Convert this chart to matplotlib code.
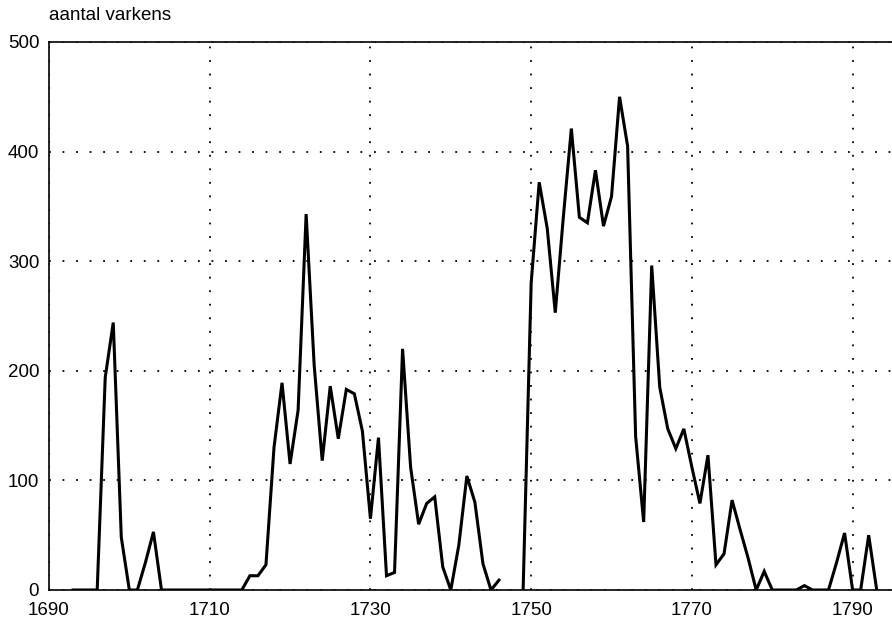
import numpy as np
import matplotlib.pyplot as plt

plt.rcParams['font.family'] = ['Liberation Sans', 'DejaVu Sans']

# aantal varkens per jaar; 1747 en 1748 ontbreken
jaren = list(range(1693, 1794))
varkens = [
    0, 0, 0, 0, 194, 244, 48, 0, 0, 25,          # 1693-1702
    53, 0, 0, 0, 0, 0, 0, 0, 0, 0,               # 1703-1712
    0, 0, 13, 13, 23, 130, 189, 115, 164, 343,   # 1713-1722
    205, 118, 186, 138, 183, 179, 145, 65, 139, 13,  # 1723-1732
    16, 220, 112, 60, 79, 85, 21, 0, 41, 104,    # 1733-1742
    80, 24, 0, 9, np.nan, np.nan, 0, 280, 372, 330,  # 1743-1752
    253, 340, 421, 340, 335, 383, 332, 359, 450, 405,  # 1753-1762
    140, 62, 296, 185, 147, 129, 147, 112, 79, 123,  # 1763-1772
    23, 33, 82, 55, 29, 0, 17, 0, 0, 0,          # 1773-1782
    0, 4, 0, 0, 0, 25, 52, 0, 0, 50,             # 1783-1792
    0,                                           # 1793
]

x_ticks = [1690, 1710, 1730, 1750, 1770, 1790]
y_ticks = [0, 100, 200, 300, 400, 500]

fig = plt.figure(figsize=(8.92, 6.2), dpi=100)
ax = fig.add_axes([0.0549, 0.0484, 0.946, 0.8839])

ax.plot(jaren, varkens, color='black', linewidth=2.2, solid_joinstyle='miter')

ax.set_xlim(1690, 1795)
ax.set_ylim(0, 500)
ax.set_xticks(x_ticks)
ax.set_yticks(y_ticks)
ax.tick_params(length=0, labelsize=13.5)
ax.tick_params(axis='x', pad=9)
ax.tick_params(axis='y', pad=7)

ax.grid(True, color='black', linestyle=(0, (1, 6.5)), linewidth=1.3)

for side in ['left', 'top', 'bottom']:
    ax.spines[side].set_linewidth(1.2)
ax.spines['right'].set_visible(False)

fig.text(0.0549, 0.975, 'aantal varkens', fontsize=13.5, ha='left', va='center')

fig.savefig('out.png', dpi=100)
